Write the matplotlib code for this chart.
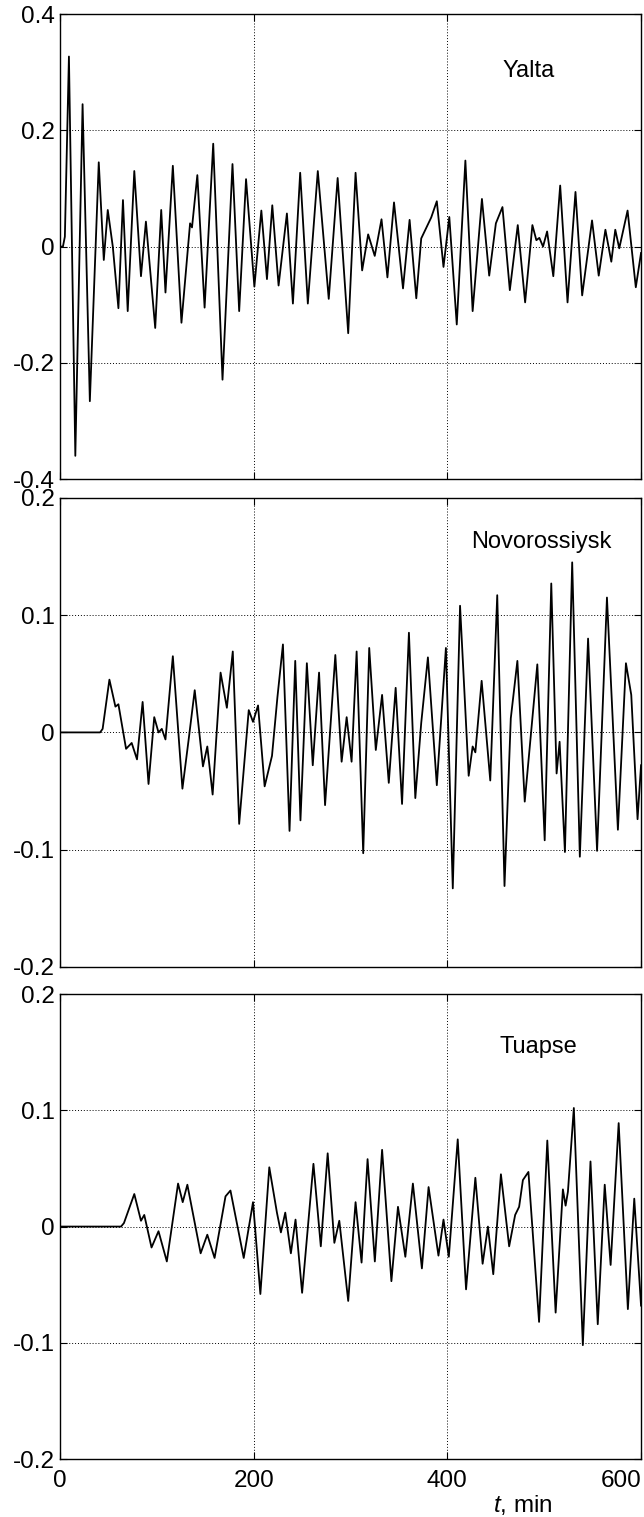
import matplotlib
matplotlib.use('Agg')
import matplotlib.pyplot as plt

plt.rcParams['font.family'] = ['Liberation Sans', 'DejaVu Sans']
plt.rcParams['axes.unicode_minus'] = False
plt.rcParams['mathtext.fontset'] = 'custom'
plt.rcParams['mathtext.rm'] = 'Liberation Sans'
plt.rcParams['mathtext.it'] = 'Liberation Sans:italic'

# DATA (time in min, sea level in m) - extrema
yalta_t = [0, 3, 5, 9.2, 15.8, 23.3, 30.8, 40, 45.2, 49.3,
           54.5, 60.3, 65, 69.9, 76.7, 83.6, 88.7, 98.3, 104.5, 108.9,
           116.5, 125.4, 134.3, 136.3, 141.8, 149.3, 158.2, 167.8, 178.1, 185,
           192.1, 200.7, 207.9, 213.7, 219.2, 225.7, 234.3, 240.5, 248, 255.9,
           266.2, 277.5, 286.7, 297.6, 305.2, 312, 318.2, 325, 332, 338.1,
           344.9, 354.2, 361, 367.9, 373, 383.3, 389.1, 396, 402, 409.7,
           418.6, 426.1, 435.7, 443.2, 450.1, 456.9, 464.5, 472.7, 480.3, 487.8,
           491.9, 495, 498.8, 503, 509.4, 516.5, 524.1, 532.3, 539.2, 549.4,
           556.3, 563.2, 569.3, 573.4, 577.5, 586.1, 594.6, 600]
yalta_v = [0, 0, 0.017, 0.327, -0.36, 0.245, -0.266, 0.145, -0.023, 0.063,
           0.0, -0.106, 0.08, -0.111, 0.13, -0.051, 0.043, -0.14, 0.063, -0.079,
           0.139, -0.131, 0.04, 0.033, 0.123, -0.105, 0.177, -0.229, 0.142, -0.111,
           0.116, -0.069, 0.062, -0.056, 0.071, -0.067, 0.057, -0.098, 0.127, -0.098,
           0.13, -0.09, 0.118, -0.149, 0.127, -0.041, 0.021, -0.016, 0.047, -0.053,
           0.076, -0.072, 0.046, -0.089, 0.014, 0.05, 0.078, -0.035, 0.051, -0.134,
           0.148, -0.111, 0.082, -0.05, 0.04, 0.068, -0.075, 0.037, -0.096, 0.037,
           0.011, 0.015, 0.0, 0.026, -0.051, 0.105, -0.096, 0.094, -0.084, 0.045,
           -0.05, 0.029, -0.026, 0.029, -0.003, 0.062, -0.07, -0.011]

novo_t = [0, 41.4, 44, 51, 57.2, 60.3, 68.2, 74, 79.5, 85.3,
          91.4, 97.3, 101.7, 105.1, 108.9, 116.5, 126.4, 133, 139.1, 147.6,
          152.1, 157.6, 165.8, 172.3, 178.4, 185, 194.9, 199.3, 204.5, 211.3,
          218.9, 224.5, 230.2, 237, 242.9, 248.3, 254.9, 261, 267.5, 273.7,
          284.3, 290.8, 296, 301.1, 306.3, 313.1, 319.3, 326.1, 332.6, 339.5,
          346.6, 353.2, 360.3, 366.9, 373, 379.9, 389.1, 398.5, 405.6, 413.1,
          422, 426.1, 428.9, 435.4, 444.3, 451.5, 459, 465.5, 472.3, 479.9,
          492.9, 500.5, 507.3, 512.8, 515.9, 521.4, 528.9, 536.8, 545.3, 554.6,
          564.8, 576.1, 584.4, 589.9, 596.4, 600]
novo_v = [0, 0, 0.003, 0.045, 0.022, 0.024, -0.014, -0.009, -0.023, 0.026,
          -0.044, 0.013, 0.0, 0.003, -0.006, 0.065, -0.048, -0.005, 0.036, -0.029,
          -0.012, -0.053, 0.051, 0.021, 0.069, -0.078, 0.019, 0.009, 0.023, -0.046,
          -0.02, 0.03, 0.075, -0.084, 0.061, -0.075, 0.059, -0.028, 0.051, -0.062,
          0.066, -0.025, 0.013, -0.025, 0.069, -0.103, 0.072, -0.015, 0.032, -0.043,
          0.038, -0.061, 0.085, -0.056, 0.008, 0.064, -0.045, 0.072, -0.133, 0.108,
          -0.037, -0.012, -0.017, 0.044, -0.041, 0.117, -0.131, 0.012, 0.061, -0.059,
          0.058, -0.092, 0.127, -0.035, -0.008, -0.102, 0.145, -0.106, 0.08, -0.101,
          0.115, -0.083, 0.059, 0.032, -0.074, -0.028]

tuapse_t = [0, 63, 66, 76.7, 83.6, 87, 94.5, 101.7, 110.3, 121.9,
            126.7, 131.5, 145.2, 152.1, 159.6, 170.9, 176, 189.7, 199.3, 206.9,
            216.1, 224, 228.1, 232.6, 238.4, 243.2, 250, 261.7, 269.3, 276.4,
            283.3, 288.4, 297.6, 305.2, 311.4, 317.6, 325.1, 332.6, 342.2, 349,
            356.6, 364.4, 373.7, 380.6, 390.8, 396, 401.5, 410.7, 419.3, 428.9,
            436.4, 441.9, 447.4, 455.3, 463.8, 470, 474.1, 478, 483.7, 494.7,
            503.2, 511.8, 519.3, 522.1, 524.5, 530.6, 539.9, 547.8, 555.3, 562.5,
            568.6, 576.9, 586.4, 593, 600]
tuapse_v = [0, 0, 0.003, 0.028, 0.005, 0.01, -0.018, -0.004, -0.03, 0.037,
            0.021, 0.036, -0.023, -0.007, -0.027, 0.026, 0.031, -0.027, 0.021, -0.058,
            0.051, 0.012, -0.005, 0.012, -0.023, 0.006, -0.057, 0.054, -0.017, 0.063,
            -0.014, 0.005, -0.064, 0.021, -0.031, 0.058, -0.03, 0.066, -0.047, 0.017,
            -0.026, 0.037, -0.036, 0.034, -0.025, 0.006, -0.026, 0.075, -0.054, 0.042,
            -0.032, 0.0, -0.041, 0.045, -0.017, 0.01, 0.017, 0.04, 0.047, -0.082,
            0.074, -0.074, 0.032, 0.018, 0.03, 0.102, -0.102, 0.056, -0.084, 0.036,
            -0.033, 0.089, -0.071, 0.024, -0.068]

stations = ['Yalta', 'Novorossiysk', 'Tuapse']
x_ticks = [0, 200, 400, 600]
y_ticks_top = [-0.4, -0.2, 0, 0.2, 0.4]
y_labels_top = ['-0.4', '-0.2', '0', '0.2', '0.4']
y_ticks_low = [-0.2, -0.1, 0, 0.1, 0.2]
y_labels_low = ['-0.2', '-0.1', '0', '0.1', '0.2']

fig = plt.figure(figsize=(6.44, 15.17), dpi=100)

# axes boxes in figure fractions
boxes = [[0.0932, 0.6842, 0.9022, 0.3065],
         [0.0932, 0.3626, 0.9022, 0.3092],
         [0.0932, 0.0382, 0.9022, 0.3065]]
series = [(yalta_t, yalta_v), (novo_t, novo_v), (tuapse_t, tuapse_v)]
label_pos = [(0.807, 0.878), (0.828, 0.905), (0.824, 0.886)]

axes = []
for i, box in enumerate(boxes):
    ax = fig.add_axes(box)
    t, v = series[i]
    ax.plot(t, v, color='black', linewidth=1.3, solid_joinstyle='round')
    ax.set_xlim(0, 600)
    ax.set_xticks(x_ticks)
    if i == 0:
        ax.set_ylim(-0.4, 0.4)
        ax.set_yticks(y_ticks_top)
        ax.set_yticklabels(y_labels_top)
    else:
        ax.set_ylim(-0.2, 0.2)
        ax.set_yticks(y_ticks_low)
        ax.set_yticklabels(y_labels_low)
    ax.grid(True, color='black', linestyle=(0, (1, 2)), linewidth=0.7)
    ax.tick_params(direction='in', length=5, top=True, right=True,
                   labelsize=17.5, pad=4)
    for sp in ax.spines.values():
        sp.set_linewidth(1.0)
    ax.text(label_pos[i][0], label_pos[i][1], stations[i], transform=ax.transAxes,
            ha='center', va='center', fontsize=17)
    if i < 2:
        ax.tick_params(labelbottom=False)
    axes.append(ax)

ax3 = axes[2]
ax3.tick_params(axis='x', pad=8)
ax3.set_xticklabels([str(x) for x in x_ticks])
ax3.get_xticklabels()[-1].set_horizontalalignment('right')

fig.text(523 / 644, 1 - 1505 / 1517, '$t$, min', ha='center', va='center', fontsize=17.5)

fig.savefig('out.png', dpi=100)
